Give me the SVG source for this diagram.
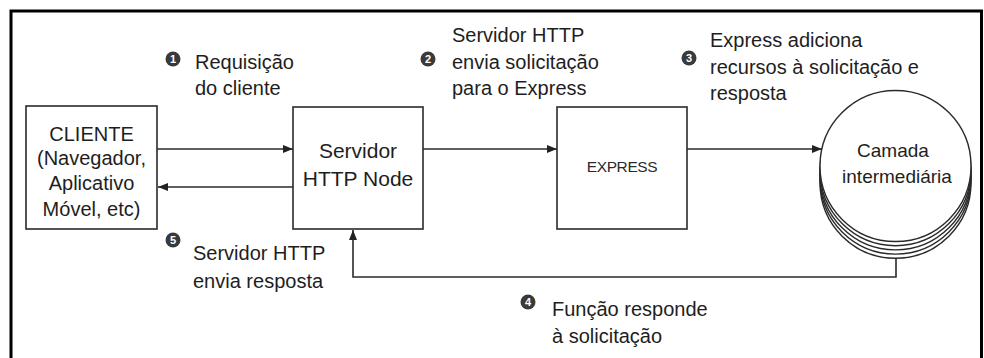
<svg xmlns="http://www.w3.org/2000/svg" width="984" height="358" viewBox="0 0 984 358">
<defs>
<marker id="arr" viewBox="0 0 10 8" refX="10" refY="4" markerWidth="10" markerHeight="8" markerUnits="userSpaceOnUse" orient="auto">
<path d="M0,0 L10,4 L0,8 Z" fill="#222"/>
</marker>
</defs>
<style>
.frame{fill:none;stroke:#000;stroke-width:3}
.box{fill:#fff;stroke:#2a2a2a;stroke-width:1.6}
.disc{fill:#fff;stroke:#2a2a2a;stroke-width:1.4}
.conn{fill:none;stroke:#2a2a2a;stroke-width:1.6}
.t{font-family:"Liberation Sans",Arial,sans-serif;font-size:20px;fill:#1e1e1e}
.c{text-anchor:middle}
.ex{font-family:"Liberation Sans",Arial,sans-serif;font-size:15.5px;fill:#2a2a2a;text-anchor:middle;letter-spacing:-0.4px}
.num{fill:#3a3a3a}
.nt{font-family:"Liberation Sans",Arial,sans-serif;font-size:11px;font-weight:bold;fill:#fff;text-anchor:middle}
</style>
<rect width="984" height="358" fill="#fff"/>
<path class="frame" d="M11,358 V11 H981.5 V358"/>

<g id="cliente">
<rect class="box" x="26" y="106" width="131" height="123"/>
<text class="t c" x="91.5" y="141">CLIENTE</text>
<text class="t c" x="91.5" y="165">(Navegador,</text>
<text class="t c" x="91.5" y="190">Aplicativo</text>
<text class="t c" x="91.5" y="216">Móvel, etc)</text>
</g>

<g id="servidor">
<rect class="box" x="293" y="107" width="130" height="122"/>
<text class="t c" x="358" y="158" style="font-size:21px">Servidor</text>
<text class="t c" x="358" y="186" style="font-size:21px">HTTP Node</text>
</g>

<g id="express">
<rect class="box" x="557" y="107" width="130" height="122"/>
<text class="ex" x="622" y="172">EXPRESS</text>
</g>

<g id="camada">
<circle class="disc" cx="895.5" cy="182.8" r="75.5"/>
<circle class="disc" cx="895.5" cy="178.6" r="75.5"/>
<circle class="disc" cx="895.5" cy="174.4" r="75.5"/>
<circle class="disc" cx="895.5" cy="170.2" r="75.5"/>
<circle class="disc" cx="895.5" cy="166" r="75.5"/>
<text class="t c" x="893" y="157" style="font-size:19px">Camada</text>
<text class="t c" x="897" y="183" style="font-size:19px">intermediária</text>
</g>

<g id="connectors">
<line class="conn" x1="157" y1="149" x2="293" y2="149" marker-end="url(#arr)"/>
<line class="conn" x1="293" y1="187" x2="158" y2="187" marker-end="url(#arr)"/>
<line class="conn" x1="423" y1="149" x2="557" y2="149" marker-end="url(#arr)"/>
<line class="conn" x1="687" y1="149" x2="822" y2="149" marker-end="url(#arr)"/>
<path class="conn" d="M896,258 V277 H353 V230" marker-end="url(#arr)"/>
</g>

<g id="label1">
<circle class="num" cx="173" cy="59" r="7.5"/>
<text class="nt" x="173" y="63">1</text>
<text class="t" x="195" y="69">Requisição</text>
<text class="t" x="195" y="95">do cliente</text>
</g>

<g id="label2">
<circle class="num" cx="428" cy="59" r="7.5"/>
<text class="nt" x="428" y="63">2</text>
<text class="t" x="452" y="42">Servidor HTTP</text>
<text class="t" x="452" y="69">envia solicitação</text>
<text class="t" x="452" y="95">para o Express</text>
</g>

<g id="label3">
<circle class="num" cx="689" cy="58" r="7.5"/>
<text class="nt" x="689" y="62">3</text>
<text class="t" x="710" y="47">Express adiciona</text>
<text class="t" x="710" y="74">recursos à solicitação e</text>
<text class="t" x="710" y="100">resposta</text>
</g>

<g id="label4">
<circle class="num" cx="528" cy="302" r="7.5"/>
<text class="nt" x="528" y="306">4</text>
<text class="t" x="552" y="316">Função responde</text>
<text class="t" x="552" y="343">à solicitação</text>
</g>

<g id="label5">
<circle class="num" cx="173" cy="240" r="7.5"/>
<text class="nt" x="173" y="244">5</text>
<text class="t" x="193" y="260">Servidor HTTP</text>
<text class="t" x="193" y="288">envia resposta</text>
</g>
</svg>
